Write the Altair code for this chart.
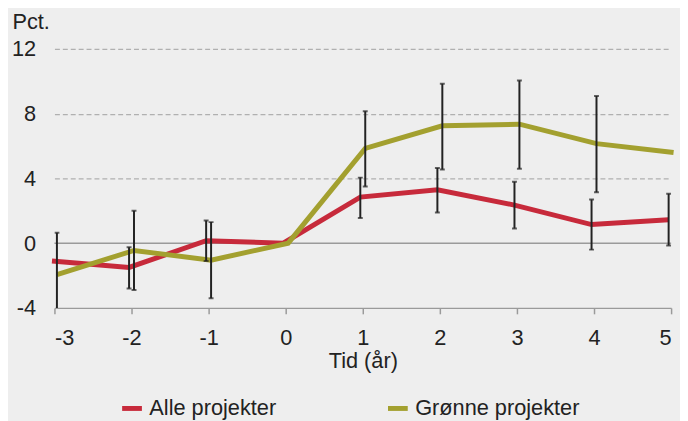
import altair as alt
import pandas as pd

# ---- data ----
tid = [-3, -2, -1, 0, 1, 2, 3, 4, 5]
serie_names = ["Alle projekter", "Grønne projekter"]

alle = [-1.1, -1.5, 0.15, 0.0, 2.85, 3.3, 2.35, 1.15, 1.45]
alle_lo = [-2.4, -2.8, -1.1, None, 1.55, 1.9, 0.9, -0.4, -0.15]
alle_hi = [0.2, -0.25, 1.4, None, 4.05, 4.65, 3.8, 2.7, 3.05]

groenne = [-1.95, -0.45, -1.05, 0.0, 5.85, 7.25, 7.35, 6.15, 5.6]
groenne_lo = [-4.55, -2.9, -3.4, None, 3.5, 4.55, 4.6, 3.15, 2.4]
groenne_hi = [0.65, 2.0, 1.3, None, 8.15, 9.85, 10.05, 9.1, 8.8]

y_ticks = [-4, 0, 4, 8, 12]

colors = ["#c72a3b", "#a3a02f"]
FONT = "Liberation Sans"
FS = 22
TXT = "#222222"

df = pd.DataFrame({
    "t": tid * 2,
    "serie": [serie_names[0]] * len(tid) + [serie_names[1]] * len(tid),
    "value": alle + groenne,
    "lo": alle_lo + groenne_lo,
    "hi": alle_hi + groenne_hi,
})

x_enc = alt.X(
    "t:Q",
    scale=alt.Scale(domain=[-3, 5], nice=False, zero=False),
    axis=alt.Axis(
        values=tid, title="Tid (år)", grid=False,
        labelExpr="toString(datum.value)",
        domainColor="#9a9a9a", domainWidth=1.5, tickColor="#9a9a9a", tickWidth=1.5,
        tickSize=6, labelPadding=14, titlePadding=2,
        labelFont=FONT, labelFontSize=FS, labelColor=TXT,
        titleFont=FONT, titleFontSize=FS, titleColor=TXT, titleFontWeight="normal",
    ),
)
y_enc = alt.Y(
    "value:Q",
    scale=alt.Scale(domain=[-4, 12], nice=False),
    axis=alt.Axis(
        values=y_ticks, title="Pct.", domain=False, ticks=False,
        labelExpr="toString(datum.value)",
        grid=True, gridDash=[5, 3], gridColor="#b0b0b0", gridWidth=1.2,
        gridOpacity=alt.condition("datum.value > 0", alt.value(1), alt.value(0)),
        labelPadding=19, labelFont=FONT, labelFontSize=FS, labelColor=TXT,
        titleAngle=0, titleAlign="left", titleBaseline="alphabetic",
        titleX=-43, titleY=-21, titleFont=FONT, titleFontSize=FS,
        titleColor=TXT, titleFontWeight="normal",
    ),
)

color_enc = alt.Color(
    "serie:N",
    scale=alt.Scale(domain=serie_names, range=colors),
    legend=alt.Legend(
        title=None, orient="none", direction="horizontal", legendX=66, legendY=351,
        symbolType="stroke", symbolSize=400, symbolStrokeWidth=5,
        labelFont=FONT, labelFontSize=FS, labelColor=TXT, labelLimit=400,
        labelOffset=5, columnPadding=102, padding=0,
    ),
)

base = alt.Chart(df)

zero_rule = alt.Chart(pd.DataFrame({"z": [0]})).mark_rule(
    color="#9a9a9a", strokeWidth=1.5
).encode(y=alt.Y("z:Q", scale=alt.Scale(domain=[-4, 12], nice=False)))

layers = [zero_rule]
offsets = [-2.5, 2.5]
for name, off in zip(serie_names, offsets):
    layers.append(
        base.transform_filter(alt.datum.serie == name)
        .mark_line(strokeWidth=5, xOffset=off)
        .encode(x=x_enc, y=y_enc, color=color_enc)
    )

for name, off in zip(serie_names, offsets):
    flt = base.transform_filter(alt.datum.serie == name).transform_filter("isValid(datum.lo)")
    layers.append(
        flt.mark_rule(color=TXT, strokeWidth=2, xOffset=off, clip=True)
        .encode(x="t:Q", y="lo:Q", y2="hi:Q")
    )
    for fld in ["lo", "hi"]:
        layers.append(
            flt.mark_tick(color=TXT, orient="horizontal", size=5, thickness=2,
                          xOffset=off, clip=True)
            .encode(x="t:Q", y=f"{fld}:Q")
        )

chart = alt.layer(*layers).properties(
    width=624, height=262,
    autosize=alt.AutoSizeParams(type="none"),
    padding={"left": 47, "top": 39, "right": 9, "bottom": 112},
    background="#eeeeee",
).configure_view(stroke=None)

chart.save("out.html", embed_options={"renderer": "svg", "actions": False})
